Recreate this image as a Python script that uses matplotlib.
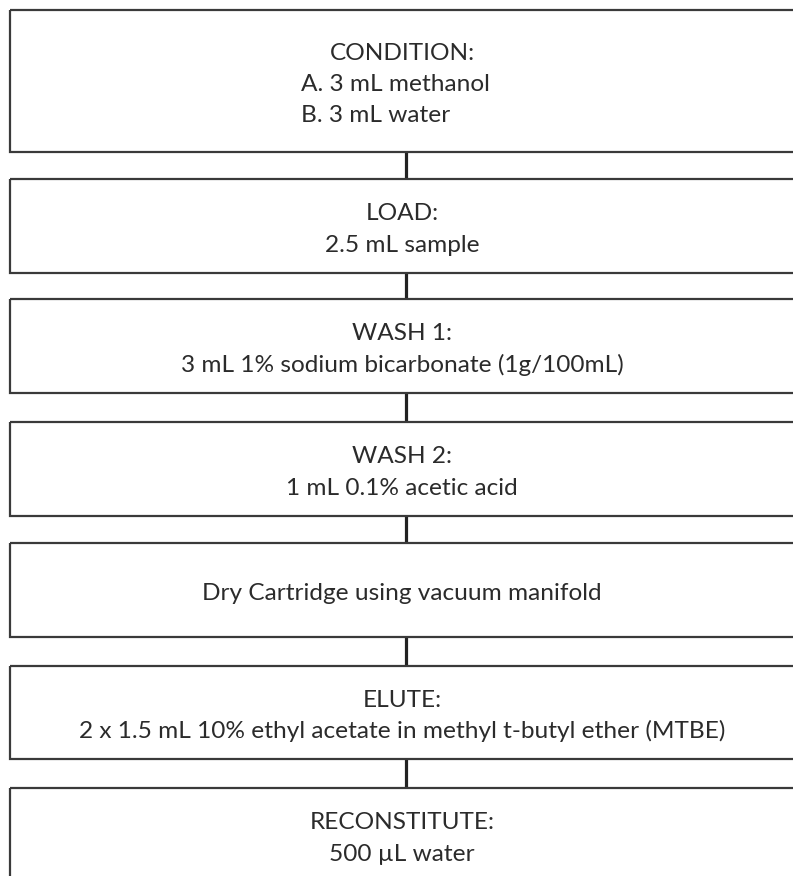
import matplotlib
matplotlib.use("Agg")
import matplotlib.pyplot as plt
from matplotlib.patches import Rectangle

# step titles and the lines under them
titles = ["CONDITION:", "LOAD:", "WASH 1:", "WASH 2:", "", "ELUTE:", "RECONSTITUTE:"]
details = [
    ["A. 3 mL methanol", "B. 3 mL water"],
    ["2.5 mL sample"],
    ["3 mL 1% sodium bicarbonate (1g/100mL)"],
    ["1 mL 0.1% acetic acid"],
    ["Dry Cartridge using vacuum manifold"],
    ["2 x 1.5 mL 10% ethyl acetate in methyl t-butyl ether (MTBE)"],
    ["500 \u00b5L water"],
]

# layout in pixels (figure is 793 x 876)
W, H = 793, 876
box_tops = [10, 179, 299, 422, 543, 666, 788]
box_heights = [142, 94, 94, 94, 94, 93, 94]
box_left, box_right = 10, 802
text_x = 402
line_gap = 31.5
edge_col = "#3a3a3a"
text_col = "#2b2b2b"
fsize = 17.6

plt.rcParams['font.family'] = ['Lato', 'DejaVu Sans']

fig = plt.figure(figsize=(W / 100, H / 100), dpi=100)
ax = fig.add_axes([0, 0, 1, 1])
ax.set_xlim(0, W)
ax.set_ylim(H, 0)
ax.axis('off')

for i, (title, lines) in enumerate(zip(titles, details)):
    top, h = box_tops[i], box_heights[i]
    ax.add_patch(Rectangle((box_left, top), box_right - box_left, h,
                           fill=False, ec=edge_col, lw=1.6, zorder=2))
    # connector to the next box
    if i < len(titles) - 1:
        ax.plot([406, 406], [top + h, box_tops[i + 1]], color="#222222", lw=2.3,
                solid_capstyle='butt', zorder=1)

    rows = ([title] if title else []) + lines
    n = len(rows)
    mid = top + h / 2 + 10
    for j, txt in enumerate(rows):
        y = mid + (j - (n - 1) / 2) * line_gap
        if i == 0 and j > 0:
            # the A./B. lines are left aligned in the reference
            ax.text(301, y, txt, ha='left', va='baseline', fontsize=fsize, color=text_col)
        else:
            ax.text(text_x, y, txt, ha='center', va='baseline', fontsize=fsize, color=text_col)

fig.savefig("out.png", dpi=100, facecolor='white')
